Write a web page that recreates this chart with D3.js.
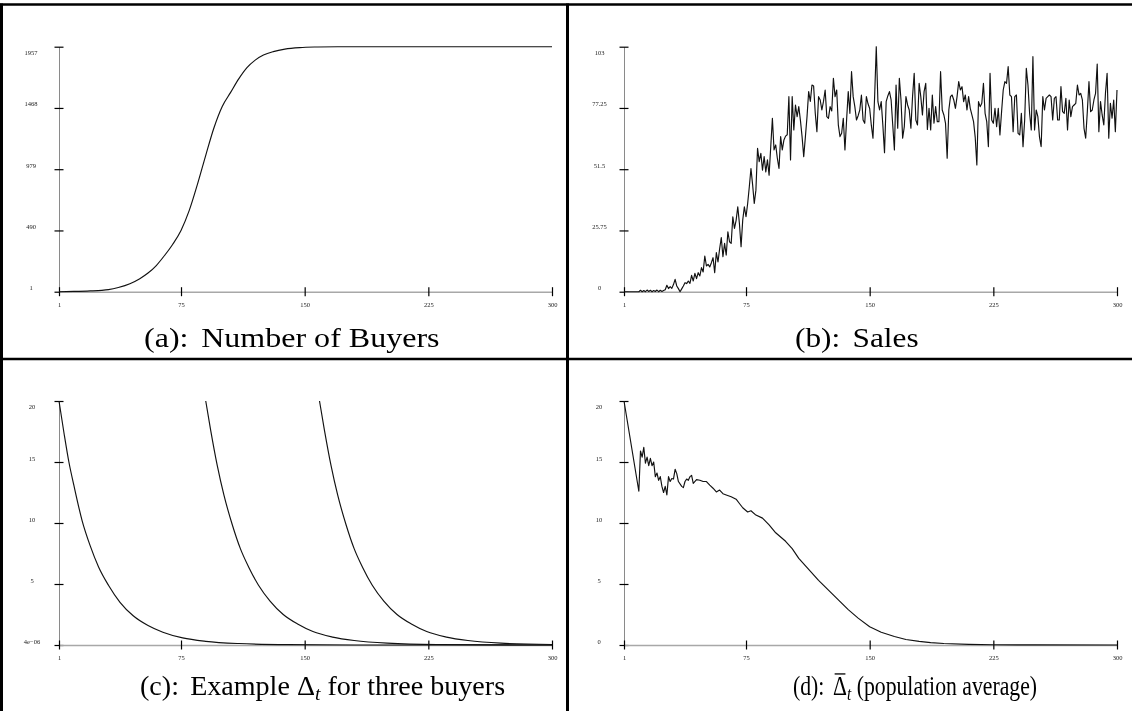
<!DOCTYPE html>
<html>
<head>
<meta charset="utf-8">
<script src="https://cdn.jsdelivr.net/npm/d3@7"></script>
<style>
  html, body { margin: 0; padding: 0; background: #fff; }
  svg { display: block; filter: grayscale(100%); }
</style>
</head>
<body>
<script>
// ---- shared axis ticks ----
const xTickValues = [1, 75, 150, 225, 300];

// ---- (a) cumulative number of buyers ----
const buyersTickValues = [1, 490, 979, 1468, 1957];
const buyersTickLabels = ["1", "490", "979", "1468", "1957"];
const buyersT = [1, 10, 20, 27, 31, 37, 44, 50, 55, 60, 65, 70, 75, 80, 85, 90, 95, 100, 105, 110, 115, 120, 125, 131, 138, 147, 158, 170, 300];
const buyersV = [1, 3, 7, 12, 18, 35, 65, 105, 150, 210, 290, 380, 490, 650, 860, 1090, 1310, 1480, 1590, 1700, 1790, 1850, 1890, 1918, 1938, 1950, 1955, 1957, 1957];

// ---- (b) sales per period, t = 1..300 ----
const salesTickValues = [0, 25.75, 51.5, 77.25, 103];
const salesTickLabels = ["0", "25.75", "51.5", "77.25", "103"];
const salesV = [
  0, 0, 0, 0, 0, 0, 0, 0, 0, 0,
  0.6, 0, 0.5, 0, 0.7, 0.1, 0.6, 0, 0.5, 0.1,
  0.7, 0, 0.6, 0.1, 0.5, 0.8, 2.7, 1.3, 2.1, 1.4,
  3.0, 5.2, 2.4, 1.3, 0, 1.2, 2.4, 3.8, 3.4, 4.5,
  3.5, 6.9, 4.5, 7.7, 5.5, 8.0, 6.6, 10.1, 8.3, 15.0,
  10.8, 11.5, 10.4, 12.2, 14.3, 8.0, 16.4, 12.5, 18.0, 22.8,
  14.7, 20.3, 15.4, 25.2, 21.0, 20.3, 31.5, 26.6, 30.0, 35.7,
  28.7, 18.9, 30.1, 35.7, 31.5, 37.1, 44.1, 51.8, 45.0, 37.1,
  42.7, 60.3, 54.7, 58.2, 51.1, 56.8, 50.4, 55.4, 49.0, 61.0,
  72.9, 59.6, 61.7, 56.1, 51.8, 65.2, 59.6, 63.8, 65.4, 66.0,
  82.0, 55.4, 82.0, 68.0, 78.5, 73.6, 77.8, 72.0, 65.2, 56.8,
  65.0, 73.6, 84.1, 80.0, 86.9, 86.5, 75.0, 67.3, 82.0, 80.6,
  76.4, 80.0, 84.8, 73.6, 72.9, 77.8, 76.0, 89.7, 82.0, 84.8,
  70.0, 65.2, 66.6, 72.9, 59.6, 72.2, 84.1, 75.0, 92.5, 82.0,
  77.8, 72.2, 74.0, 76.4, 82.7, 72.2, 70.8, 82.0, 79.0, 77.0,
  70.0, 64.5, 82.0, 103.0, 79.9, 76.4, 79.9, 70.0, 58.4, 79.9,
  82.3, 84.1, 80.6, 70.0, 59.6, 86.9, 68.7, 89.7, 80.6, 64.5,
  69.4, 82.0, 78.5, 76.4, 68.7, 82.0, 91.8, 72.2, 70.1, 87.6,
  82.0, 74.3, 84.1, 87.6, 68.2, 77.1, 68.0, 82.7, 70.8, 77.8,
  71.5, 71.5, 92.5, 76.4, 74.3, 70.8, 56.1, 76.4, 82.0, 82.7,
  80.6, 77.1, 82.0, 88.3, 84.8, 86.2, 79.9, 82.7, 76.4, 82.0,
  77.1, 74.3, 71.5, 65.0, 53.3, 79.9, 77.8, 79.2, 87.6, 75.0,
  71.5, 61.0, 91.8, 72.2, 70.8, 77.1, 69.4, 77.1, 65.9, 75.7,
  84.8, 88.3, 87.6, 94.6, 82.7, 82.0, 67.3, 82.0, 82.7, 66.6,
  65.9, 75.0, 61.0, 72.2, 93.9, 86.9, 75.0, 68.0, 98.8, 68.0,
  76.4, 73.6, 65.0, 61.0, 82.0, 76.4, 81.3, 82.0, 82.7, 82.0,
  72.2, 81.3, 82.0, 72.2, 72.2, 86.2, 75.7, 75.0, 81.3, 68.0,
  80.6, 73.6, 77.8, 78.5, 79.2, 86.9, 82.7, 83.4, 80.6, 68.7,
  64.5, 75.7, 88.3, 75.7, 76.4, 80.6, 83.4, 95.7, 67.3, 79.9,
  74.3, 70.1, 83.4, 91.8, 64.5, 79.2, 72.9, 80.6, 67.3, 84.8
];

// ---- (c) Delta_t of three individual buyers ----
const deltaTickValues = [0.000004, 5, 10, 15, 20];
const deltaTickLabels = ["4e\u221206", "5", "10", "15", "20"];
const buyer1T = [1, 4, 7, 10, 15, 20, 25, 31, 38, 46, 55, 64, 76, 90, 110, 140, 180, 230, 300];
const buyer1V = [20, 17.4, 15.0, 13.1, 10.2, 8.1, 6.4, 4.9, 3.5, 2.4, 1.6, 1.05, 0.58, 0.30, 0.12, 0.03, 0.004, 0.0005, 0.000004];
const buyer2T = [90, 93, 97, 101, 106, 111, 116, 122, 129, 137, 146, 155, 167, 180, 200, 230, 300];
const buyer2V = [20, 17.6, 14.7, 12.3, 9.9, 7.9, 6.4, 4.9, 3.6, 2.5, 1.7, 1.1, 0.65, 0.37, 0.15, 0.04, 0.0005];
const buyer3T = [159, 162, 166, 170, 175, 180, 185, 191, 198, 206, 215, 224, 236, 249, 269, 300];
const buyer3V = [20, 17.6, 14.7, 12.3, 9.9, 7.9, 6.4, 4.9, 3.6, 2.5, 1.7, 1.1, 0.65, 0.37, 0.15, 0.04];

// ---- (d) population average of Delta_t ----
const avgTickValues = [0, 5, 10, 15, 20];
const avgTickLabels = ["0", "5", "10", "15", "20"];
const avgT = [1, 10, 11, 12, 13, 14, 15, 16, 17, 18, 19, 20, 21, 22, 23, 24, 25, 26, 27, 28, 29, 30, 31, 32, 33, 34, 36, 37, 38, 39, 40, 41, 42, 43, 45, 47, 49, 51, 53, 55, 57, 59, 61, 63, 66, 69, 71, 73, 76, 78, 81, 85, 89, 93, 99, 103, 107, 113, 119, 125, 131, 137, 143, 150, 157, 165, 172, 180, 187, 195, 210, 225, 250, 300];
const avgV = [20, 12.6, 15.9, 15.4, 16.2, 14.9, 15.4, 14.7, 15.3, 14.7, 15.0, 13.8, 14.1, 13.5, 13.8, 13.0, 12.5, 13.0, 12.3, 13.8, 13.4, 13.65, 13.6, 14.4, 14.05, 13.4, 13.0, 12.9, 13.4, 13.6, 13.5, 13.8, 13.9, 13.25, 13.55, 13.5, 13.4, 13.4, 13.1, 12.85, 12.55, 12.7, 12.4, 12.3, 12.15, 11.95, 11.6, 11.25, 10.9, 11.0, 10.65, 10.4, 9.85, 9.2, 8.5, 7.9, 7.1, 6.2, 5.3, 4.5, 3.7, 2.9, 2.2, 1.5, 1.05, 0.7, 0.45, 0.3, 0.2, 0.12, 0.05, 0.02, 0.005, 0];

// ---- page ----
const W = 1132, H = 711;
const SERIF = "'Liberation Serif', 'Times New Roman', Times, serif";
const svg = d3.select("body").append("svg").attr("width", W).attr("height", H);
svg.append("rect").attr("width", W).attr("height", H).attr("fill", "#fff");

// table rules
const rules = svg.append("g").attr("stroke", "#000");
rules.append("line").attr("x1", 0).attr("x2", W).attr("y1", 4.5).attr("y2", 4.5).attr("stroke-width", 2.5);
rules.append("line").attr("x1", 1.5).attr("x2", 1.5).attr("y1", 3.5).attr("y2", H).attr("stroke-width", 3);
rules.append("line").attr("x1", 567.5).attr("x2", 567.5).attr("y1", 3.5).attr("y2", H).attr("stroke-width", 3);
rules.append("line").attr("x1", 0).attr("x2", W).attr("y1", 359).attr("y2", 359).attr("stroke-width", 2.5);

const zip = (ts, vs) => ts.map((t, i) => [t, vs[i]]);

const panels = [
  { x0: 59, x1: 552, top: 46.7, bottom: 291.7, domain: [1, 1957], labelX: -28,
    ticks: buyersTickValues, labels: buyersTickLabels,
    series: [zip(buyersT, buyersV)], curve: d3.curveMonotoneX },
  { x0: 624, x1: 1117, top: 46.7, bottom: 291.7, domain: [0, 103], labelX: -24.5,
    ticks: salesTickValues, labels: salesTickLabels,
    series: [salesV.map((v, i) => [i + 1, v])], curve: d3.curveLinear },
  { x0: 59, x1: 552, top: 401, bottom: 645, domain: [0.000004, 20], labelX: -27,
    ticks: deltaTickValues, labels: deltaTickLabels,
    series: [zip(buyer1T, buyer1V), zip(buyer2T, buyer2V), zip(buyer3T, buyer3V)], curve: d3.curveMonotoneX },
  { x0: 624, x1: 1117, top: 401, bottom: 645, domain: [0, 20], labelX: -25,
    ticks: avgTickValues, labels: avgTickLabels,
    series: [zip(avgT, avgV)], curve: d3.curveLinear }
];

panels.forEach(p => {
  const x = d3.scaleLinear().domain([1, 300]).range([p.x0, p.x1]);
  const y = d3.scaleLinear().domain(p.domain).range([p.bottom, p.top]);
  const g = svg.append("g");

  // y axis: thin grey spine, black cross ticks, labels set left of the spine
  g.append("g")
    .attr("transform", `translate(${p.x0},0)`)
    .call(d3.axisLeft(y).tickValues(p.ticks).tickFormat((d, i) => p.labels[i]).tickSizeOuter(0))
    .attr("font-family", SERIF).attr("font-size", 6.5)
    .call(a => a.select(".domain").attr("stroke", "#8a8a8a").attr("stroke-width", 1))
    .call(a => a.selectAll(".tick line").attr("x1", -4.5).attr("x2", 4.5).attr("stroke", "#000").attr("stroke-width", 1.2))
    .call(a => a.selectAll(".tick text")
      .attr("fill", "#222")
      .attr("text-anchor", "middle").attr("x", p.labelX).attr("dy", 0)
      .attr("y", (d, i) => i === p.ticks.length - 1 ? 7.5 : -2));

  // x axis: light grey baseline with black cross ticks
  g.append("g")
    .attr("transform", `translate(0,${p.bottom})`)
    .call(d3.axisBottom(x).tickValues(xTickValues).tickFormat(d3.format("d")).tickSizeOuter(0))
    .attr("font-family", SERIF).attr("font-size", 6.5)
    .call(a => a.select(".domain").attr("stroke", "#a8a8a8").attr("stroke-width", 1.6))
    .call(a => a.selectAll(".tick line").attr("y1", -4.5).attr("y2", 4.5).attr("stroke", "#000").attr("stroke-width", 1.2))
    .call(a => a.selectAll(".tick text").attr("fill", "#222").attr("y", 15).attr("dy", 0));

  const line = d3.line().x(d => x(d[0])).y(d => y(d[1])).curve(p.curve);
  p.series.forEach(s => {
    g.append("path").datum(s)
      .attr("d", line)
      .attr("fill", "none")
      .attr("stroke", "#111")
      .attr("stroke-width", 1.15)
      .attr("stroke-linejoin", "round");
  });
});

// ---- captions: each one set between a left and a right edge ----
const capSize = 27;
function caption(x0, x1, y, parts) {
  const g = svg.append("g").attr("transform", `translate(${x0},${y})`);
  const inner = g.append("g");
  const t = inner.append("text")
    .attr("font-family", SERIF).attr("font-size", capSize).attr("fill", "#000")
    .style("white-space", "pre");
  parts.forEach(pt => {
    const s = t.append("tspan").text(pt.text);
    if (pt.sub) s.attr("font-size", capSize * 0.7).attr("font-style", "italic").attr("dy", 5);
    if (pt.after) s.attr("dy", -5);
    if (pt.dx) s.attr("dx", pt.dx);
  });
  const w = t.node().getComputedTextLength();
  inner.attr("transform", `scale(${(x1 - x0) / w},1)`);
  return { g: inner, t };
}

caption(144, 435, 347, [{ text: "(a):" }, { text: " Number of Buyers", dx: 4 }]);
caption(795, 914, 347, [{ text: "(b):" }, { text: " Sales", dx: 4 }]);
caption(140, 501, 695, [{ text: "(c):" }, { text: " Example \u0394", dx: 4 }, { text: "t", sub: true }, { text: " for three buyers", after: true }]);
const d = caption(793, 1034, 695, [{ text: "(d):" }, { text: " \u0394", dx: 4 }, { text: "t", sub: true }, { text: " (population average)", after: true }]);

// bar over the Delta of the average
const deltaIndex = "(d): ".length;
const ext = d.t.node().getExtentOfChar(deltaIndex);
d.g.append("line")
  .attr("x1", ext.x + 2).attr("x2", ext.x + ext.width - 2)
  .attr("y1", -capSize * 0.78).attr("y2", -capSize * 0.78)
  .attr("stroke", "#000").attr("stroke-width", 1.3);
</script>
</body>
</html>
